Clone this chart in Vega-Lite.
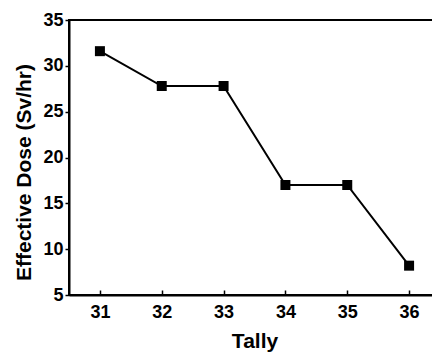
{
  "$schema": "https://vega.github.io/schema/vega-lite/v6.json",
  "autosize": "none",
  "width": 371,
  "height": 275,
  "padding": {"left": 69, "top": 20, "right": 0, "bottom": 57},
  "background": "white",
  "config": {
    "view": {"stroke": "black", "strokeWidth": 2},
    "axis": {
      "labelFont": "Liberation Sans",
      "titleFont": "Liberation Sans",
      "labelFontWeight": 700,
      "titleFontWeight": 700,
      "labelColor": "black",
      "titleColor": "black",
      "domainColor": "black",
      "domainWidth": 2,
      "tickColor": "black",
      "tickWidth": 1.5,
      "grid": false
    }
  },
  "data": {
    "values": [
      {"tally": 31, "dose": 31.6},
      {"tally": 32, "dose": 27.8},
      {"tally": 33, "dose": 27.8},
      {"tally": 34, "dose": 17.0},
      {"tally": 35, "dose": 17.0},
      {"tally": 36, "dose": 8.2}
    ]
  },
  "encoding": {
    "x": {
      "field": "tally",
      "type": "quantitative",
      "scale": {"domain": [30.5, 36.5], "nice": false, "zero": false},
      "axis": {
        "title": "Tally",
        "values": [31, 32, 33, 34, 35, 36],
        "format": "d",
        "tickSize": -5,
        "labelPadding": 13,
        "labelFontSize": 18,
        "titleFontSize": 21,
        "titlePadding": 9,
        "labelFlush": false
      }
    },
    "y": {
      "field": "dose",
      "type": "quantitative",
      "scale": {"domain": [5, 35], "nice": false, "zero": false},
      "axis": {
        "title": "Effective Dose (Sv/hr)",
        "values": [5, 10, 15, 20, 25, 30, 35],
        "tickSize": 4,
        "labelPadding": 2,
        "labelFontSize": 18,
        "titleFontSize": 21,
        "titlePadding": 8,
        "titleY": 152,
        "labelFlush": false
      }
    }
  },
  "layer": [
    {"mark": {"type": "line", "color": "black", "strokeWidth": 2}},
    {"mark": {"type": "square", "color": "black", "opacity": 1, "size": 100, "filled": true}}
  ]
}
